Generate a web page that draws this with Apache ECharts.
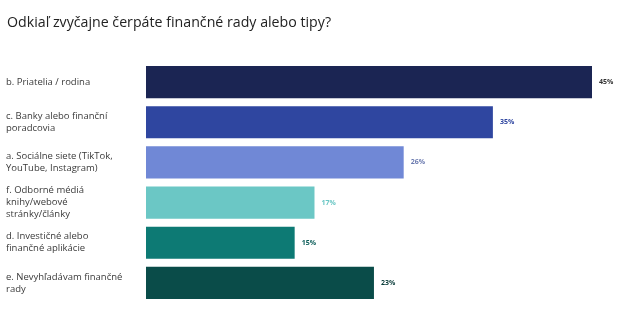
<!DOCTYPE html>
<html>
<head>
<meta charset="utf-8">
<script src="https://cdn.jsdelivr.net/npm/echarts@6/dist/echarts.min.js"></script>
<style>
  html, body { margin: 0; padding: 0; background: #fff; }
  #chart { width: 625px; height: 324px; }
</style>
</head>
<body>
<div id="chart"></div>
<script>
const titleText = 'Odkiaľ zvyčajne čerpáte finančné rady alebo tipy?';
const categories = [
  'b. Priatelia / rodina',
  'c. Banky alebo finanční\nporadcovia',
  'a. Sociálne siete (TikTok,\nYouTube, Instagram)',
  'f. Odborné médiá\nknihy/webové\nstránky/články',
  'd. Investičné alebo\nfinančné aplikácie',
  'e. Nevyhľadávam finančné\nrady'
];
const values = [45, 35, 26, 17, 15, 23];
const barColors = ['#1b2553', '#2f46a0', '#7088d6', '#6bc7c5', '#0d7a74', '#0a4c49'];
const labelColors = ['#333333', '#2f46a0', '#6c7bb0', '#6bc7c5', '#0d5e5a', '#0a3c3a'];

const chart = echarts.init(document.getElementById('chart'));

const option = {
  animation: false,
  title: {
    text: titleText,
    left: 2,
    top: 11,
    textStyle: {
      fontFamily: 'Open Sans',
      fontSize: 14.2,
      fontWeight: 'normal',
      color: '#222'
    }
  },
  grid: {
    left: 146,
    right: 33,
    top: 62,
    bottom: 21
  },
  xAxis: {
    type: 'value',
    min: 0,
    max: 45,
    show: false
  },
  yAxis: {
    type: 'category',
    inverse: true,
    data: categories,
    axisLine: { show: false },
    axisTick: { show: false },
    axisLabel: {
      align: 'left',
      margin: 140,
      fontFamily: 'Open Sans',
      fontSize: 9.5,
      lineHeight: 12,
      color: '#3a3a3a'
    }
  },
  series: [
    {
      type: 'bar',
      barCategoryGap: '20%',
      data: values.map((v, i) => ({
        value: v,
        itemStyle: { color: barColors[i] },
        label: { color: labelColors[i] }
      })),
      label: {
        show: true,
        position: 'right',
        distance: 7,
        formatter: '{c}%',
        fontFamily: 'Open Sans',
        fontSize: 7,
        fontWeight: 'bold'
      }
    }
  ]
};

chart.setOption(option);
window.addEventListener('resize', function () {
  chart.resize();
});
</script>
</body>
</html>
